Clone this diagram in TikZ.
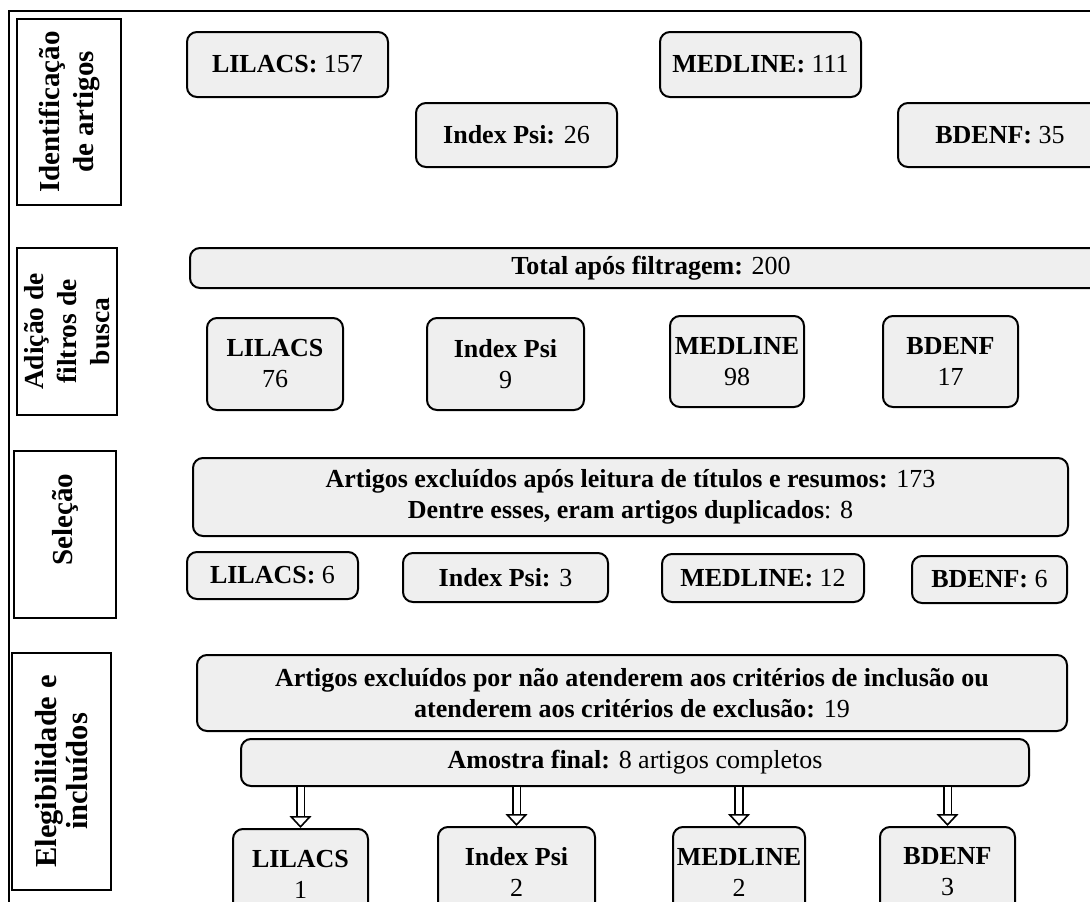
\documentclass[tikz,border=0pt]{standalone}
\usepackage{fontspec}
\setmainfont{Liberation Serif}
\usetikzlibrary{arrows.meta}
\definecolor{cinza}{HTML}{EFEFEF}

\begin{document}
\begin{tikzpicture}[x=1pt,y=-1pt,
  caixa/.style={draw,line width=2pt,fill=cinza,rounded corners=10pt,align=center,inner sep=0pt,font=\fontsize{26}{31}\selectfont},
  etapa/.style={draw,line width=2pt,fill=white,rotate=90,align=center,inner sep=0pt,font=\bfseries\fontsize{29}{34}\selectfont},
  tam/.style 2 args={minimum width=#1pt,minimum height=#2pt},
  seta/.style={line width=1.6pt,double,double distance=6pt,-{Triangle[open,length=12pt,width=22pt]}}]
\useasboundingbox (0,0) rectangle (1090,902);
\draw[line width=1.5pt] (9,11) rectangle (1130,940);
% etapas
\node[etapa,tam={186}{104}] (et1) at (69,112) {Identificação\\de artigos};
\node[etapa,tam={167}{100},font=\bfseries\fontsize{27.5}{33}\selectfont] (et2) at (67,331.5) {Adição de\\filtros de\\busca};
\node[etapa,tam={167}{102}] (et3) at (65,534.5) {\hspace*{30pt}Seleção};
\node[etapa,tam={237}{99},font=\bfseries\fontsize{30.5}{31}\selectfont] (et4) at (61.5,771.5) {Elegibilidade e\\incluídos};
% identificacao
\node[caixa,tam={201}{65}] (lil1) at (287.5,64.5) {\textbf{LILACS:} 157};
\node[caixa,tam={201}{64}] (ips1) at (516.5,135) {\textbf{Index Psi:} 26};
\node[caixa,tam={201}{65}] (med1) at (760.5,64.5) {\textbf{MEDLINE:} 111};
\node[caixa,tam={204}{64}] (bde1) at (1000,135) {\textbf{BDENF:} 35};
% filtros
\node[caixa,tam={922}{40}] (total) at (651,268) {\textbf{Total após filtragem:} 200};
\node[caixa,tam={136}{92}] (lil2) at (275,364) {\textbf{LILACS}\\76};
\node[caixa,tam={157}{92}] (ips2) at (505.5,364) {\textbf{Index Psi}\\9};
\node[caixa,tam={134}{91}] (med2) at (737,361.5) {\textbf{MEDLINE}\\98};
\node[caixa,tam={135}{91}] (bde2) at (950.5,361.5) {\textbf{BDENF}\\17};
% selecao
\node[caixa,tam={875}{78}] (excl) at (630.5,497) {\textbf{Artigos excluídos após leitura de títulos e resumos:} 173\\\textbf{Dentre esses, eram artigos duplicados}: 8};
\node[caixa,tam={171}{47}] (lil3) at (272.5,575.5) {\textbf{LILACS:} 6};
\node[caixa,tam={205}{49}] (ips3) at (505.5,577.5) {\textbf{Index Psi:} 3};
\node[caixa,tam={202}{48}] (med3) at (763,578) {\textbf{MEDLINE:} 12};
\node[caixa,tam={155}{47}] (bde3) at (989.5,579.5) {\textbf{BDENF:} 6};
% elegibilidade
\node[caixa,tam={870}{76}] (crit) at (632,693) {\textbf{Artigos excluídos por não atenderem aos critérios de inclusão ou}\\\textbf{atenderem aos critérios de exclusão:} 19};
\node[caixa,tam={788}{47}] (amostra) at (635,762.5) {\textbf{Amostra final:} 8 artigos completos};
\node[caixa,tam={135}{90}] (lil4) at (300.5,874) {\textbf{LILACS}\\1};
\node[caixa,tam={157}{90}] (ips4) at (516.5,872) {\textbf{Index Psi}\\2};
\node[caixa,tam={132}{90}] (med4) at (739,872) {\textbf{MEDLINE}\\2};
\node[caixa,tam={135}{90}] (bde4) at (947.5,872) {\textbf{BDENF}\\3};
\foreach \b in {lil4,ips4,med4,bde4}
  \draw[seta] (amostra.south -| \b.north) -- (\b.north);
\end{tikzpicture}
\end{document}
